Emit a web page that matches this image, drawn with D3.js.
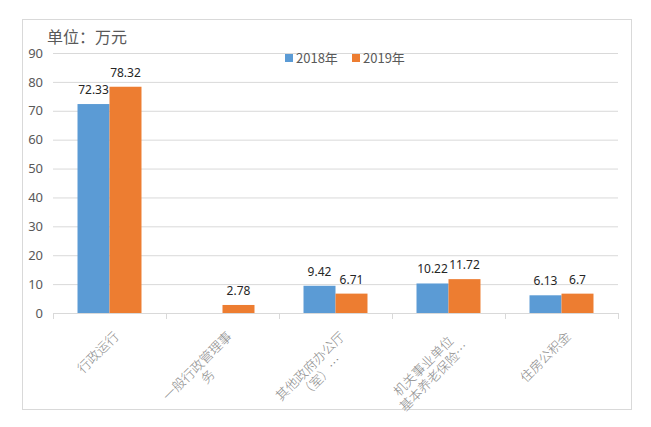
<!DOCTYPE html>
<html>
<head>
<meta charset="utf-8">
<script src="https://cdn.jsdelivr.net/npm/d3@7"></script>
<style>
  html, body { margin: 0; padding: 0; background: #fff; }
  svg { display: block; }
</style>
</head>
<body>
<svg id="chart" width="651" height="427"></svg>
<script>
// ---- data ----
const categories = ["行政运行", "一般行政管理事务", "其他政府办公厅（室）…", "机关事业单位基本养老保险…", "住房公积金"];
const categoryLabelLines = [
  ["行政运行"],
  ["一般行政管理事", "务"],
  ["其他政府办公厅", "（室）…"],
  ["机关事业单位", "基本养老保险…"],
  ["住房公积金"]
];
const seriesNames = ["2018年", "2019年"];
const values2018 = [72.33, null, 9.42, 10.22, 6.13];
const values2019 = [78.32, 2.78, 6.71, 11.72, 6.7];
const valueLabels2018 = ["72.33", "", "9.42", "10.22", "6.13"];
const valueLabels2019 = ["78.32", "2.78", "6.71", "11.72", "6.7"];
const yTicks = [0, 10, 20, 30, 40, 50, 60, 70, 80, 90];
const unitTitle = "单位：万元";
const seriesColors = ["#5b9bd5", "#ed7d31"];

// ---- drawing ----
const svg = d3.select("#chart");
const plot = { left: 53, right: 618, top: 53, bottom: 313 };

// outer frame
svg.append("rect").attr("x", 22.5).attr("y", 19.5).attr("width", 609).attr("height", 390)
  .attr("fill", "#fff").attr("stroke", "#d9d9d9").attr("stroke-width", 1);

const x0 = d3.scaleBand().domain(categories).range([plot.left, plot.right]).paddingInner(0).paddingOuter(0);
const x1 = d3.scaleBand().domain(seriesNames).range([0, x0.bandwidth()]).paddingInner(0).paddingOuter(0.766);
const y = d3.scaleLinear().domain([0, 90]).range([plot.bottom, plot.top]);

// gridlines
const yAxis = d3.axisLeft(y).tickValues(yTicks).tickSize(-(plot.right - plot.left)).tickPadding(10).tickFormat(d3.format("d"));
const gy = svg.append("g").attr("transform", `translate(${plot.left},0)`).call(yAxis);
gy.select(".domain").remove();
gy.selectAll(".tick line").attr("stroke", "#d9d9d9").attr("stroke-width", 1);
gy.selectAll(".tick text").attr("fill", "#595959").style("font-family", "'Noto Sans', 'DejaVu Sans', sans-serif").style("font-size", "13px");

// x axis line with ticks at category boundaries
const gx = svg.append("g").attr("transform", `translate(0,${plot.bottom})`);
gx.append("line").attr("x1", plot.left).attr("x2", plot.right).attr("y1", 0.5).attr("y2", 0.5)
  .attr("stroke", "#d9d9d9");
const boundaries = categories.map(c => x0(c)).concat([x0(categories[categories.length - 1]) + x0.step()]);
gx.selectAll("line.tk").data(boundaries).enter().append("line").attr("class", "tk")
  .attr("x1", d => Math.round(d) + 0.5).attr("x2", d => Math.round(d) + 0.5)
  .attr("y1", 0).attr("y2", 6).attr("stroke", "#d9d9d9");

// bars
const seriesData = [values2018, values2019];
const seriesLabels = [valueLabels2018, valueLabels2019];
seriesNames.forEach((s, si) => {
  const g = svg.append("g");
  categories.forEach((c, ci) => {
    const v = seriesData[si][ci];
    if (v == null) return;
    const bx = x0(c) + x1(s);
    g.append("rect").attr("x", bx).attr("y", y(v)).attr("width", x1.bandwidth()).attr("height", y(0) - y(v))
      .attr("fill", seriesColors[si]);
    g.append("text").attr("x", bx + x1.bandwidth() / 2).attr("y", y(v) - 10)
      .attr("text-anchor", "middle").attr("fill", "#262626")
      .style("font-family", "'Noto Sans', 'DejaVu Sans', sans-serif").style("font-size", "12px")
      .text(seriesLabels[si][ci]);
  });
});

// category labels (rotated -45)
const lh = 15;
categories.forEach((c, ci) => {
  const cx = x0(c) + x0.bandwidth() / 2;
  const g = svg.append("g").attr("transform", `translate(${cx + 1},${plot.bottom + 15}) rotate(-45)`);
  const lines = categoryLabelLines[ci];
  const texts = lines.map((t, li) => g.append("text")
    .attr("text-anchor", "middle")
    .attr("dominant-baseline", "central")
    .attr("y", lh * (li + 0.5))
    .attr("fill", "#8a8a8a")
    .style("font-family", "'Noto Sans CJK SC', sans-serif").style("font-size", "13px").style("font-weight", "300")
    .text(t));
  const W = d3.max(texts, t => t.node().getComputedTextLength());
  texts.forEach(t => t.attr("x", -W / 2));
});

// title
svg.append("text").attr("x", 47).attr("y", 43).attr("fill", "#595959")
  .style("font-family", "'Noto Sans CJK SC', sans-serif").style("font-size", "16px")
  .text(unitTitle);

// legend
const legend = svg.append("g");
const legendX = [285, 352];
seriesNames.forEach((s, si) => {
  legend.append("rect").attr("x", legendX[si]).attr("y", 54).attr("width", 8).attr("height", 8).attr("fill", seriesColors[si]);
  legend.append("text").attr("x", legendX[si] + 11).attr("y", 63).attr("fill", "#595959")
    .style("font-family", "'Noto Sans CJK SC', sans-serif").style("font-size", "13px").text(s);
});
</script>
</body>
</html>
